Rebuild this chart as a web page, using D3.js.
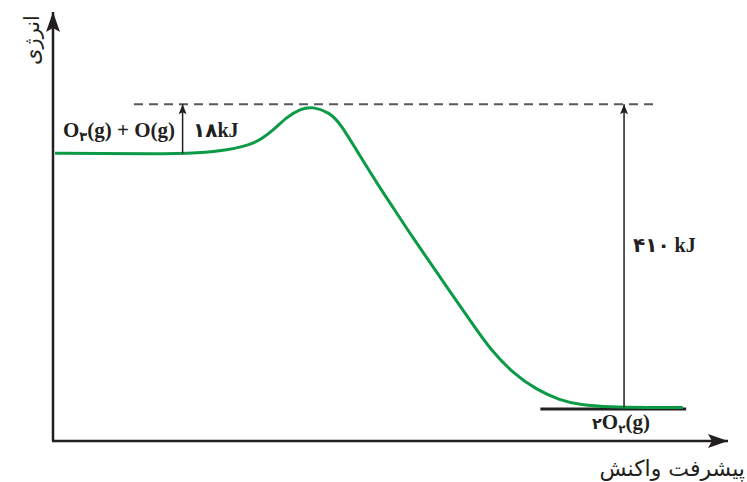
<!DOCTYPE html>
<html>
<head>
<meta charset="utf-8">
<script src="https://cdn.jsdelivr.net/npm/d3@7"></script>
<style>
  body { margin: 0; background: #fff; }
  svg { display: block; }
</style>
</head>
<body>
<div id="chart"></div>
<script>
// reaction progress (0..100) and energy (arbitrary units, 0..100)
var progress = [0.3, 7.0, 14.4, 21.8, 26.2, 29.2, 31.0, 32.6, 34.7, 36.6, 38.5, 41.0, 42.5, 45.5, 48.4,
                50.4, 53.3, 58.4, 62.8, 64.7, 68.1, 71.7, 75.1, 78.1, 82.5, 88.4, 93.3];
var energy   = [67.1, 67.0, 66.9, 67.1, 67.9, 69.0, 70.5, 72.4, 75.6, 77.4, 78.0, 76.5, 74.2, 66.4, 59.1,
                54.4, 47.4, 35.8, 25.8, 21.6, 15.8, 11.9, 9.5, 8.4, 7.9, 7.8, 7.8];

// levels
var reactantLevel = 67.0;
var transitionLevel = 78.5;
var productLevel = 7.8;

// labels
var yTitle = "انرژی";
var xTitle = "پیشرفت واکنش";
var activationLabel = "۱۸kJ";
var deltaLabel = "۴۱۰ kJ";

var width = 747, height = 482;
var margin = {top: 12, left: 53, bottom: 41, right: 19};

var x = d3.scaleLinear().domain([0, 100]).range([margin.left, width - margin.right]);
var y = d3.scaleLinear().domain([0, 100]).range([height - margin.bottom, margin.top]);

var svg = d3.select("#chart").append("svg")
  .attr("width", width)
  .attr("height", height);

var defs = svg.append("defs");
defs.append("marker")
    .attr("id", "bigHead")
    .attr("viewBox", "0 0 20 14")
    .attr("refX", 20).attr("refY", 7)
    .attr("markerWidth", 20).attr("markerHeight", 14)
    .attr("markerUnits", "userSpaceOnUse")
    .attr("orient", "auto")
  .append("path")
    .attr("d", "M0,0L20,7L0,14L4,7Z")
    .attr("fill", "#231f20");
defs.append("marker")
    .attr("id", "smallHead")
    .attr("viewBox", "0 0 10 8")
    .attr("refX", 10).attr("refY", 4)
    .attr("markerWidth", 10).attr("markerHeight", 8)
    .attr("markerUnits", "userSpaceOnUse")
    .attr("orient", "auto")
  .append("path")
    .attr("d", "M0,0L10,4L0,8L2,4Z")
    .attr("fill", "#231f20");

var x0 = x(0), y0 = y(0);

// axes
svg.append("line")
    .attr("x1", x0).attr("y1", y0)
    .attr("x2", x0).attr("y2", y(100))
    .attr("stroke", "#231f20").attr("stroke-width", 2.5)
    .attr("marker-end", "url(#bigHead)");
svg.append("line")
    .attr("x1", x0 - 1).attr("y1", y0)
    .attr("x2", x(100)).attr("y2", y0)
    .attr("stroke", "#231f20").attr("stroke-width", 2.5)
    .attr("marker-end", "url(#bigHead)");

// axis titles
svg.append("text")
    .attr("transform", "translate(39,40) rotate(-90)")
    .attr("text-anchor", "middle")
    .attr("font-family", "DejaVu Sans")
    .attr("font-size", "21px")
    .attr("fill", "#231f20")
    .text(yTitle);
svg.append("text")
    .attr("x", 745).attr("y", 476)
    .attr("text-anchor", "end")
    .attr("font-family", "DejaVu Sans")
    .attr("font-size", "22px")
    .attr("fill", "#231f20")
    .text(xTitle);

// dashed transition state level
svg.append("line")
    .attr("x1", x(12)).attr("x2", x(89.2))
    .attr("y1", y(transitionLevel)).attr("y2", y(transitionLevel))
    .attr("stroke", "#58595b").attr("stroke-width", 2)
    .attr("stroke-dasharray", "9,6");

// product base line
svg.append("line")
    .attr("x1", x(72.2)).attr("x2", x(93.8))
    .attr("y1", y(productLevel) + 1.5).attr("y2", y(productLevel) + 1.5)
    .attr("stroke", "#231f20").attr("stroke-width", 3);

// energy curve
var pts = progress.map(function (p, i) { return [p, energy[i]]; });
var line = d3.line()
    .x(function (d) { return x(d[0]); })
    .y(function (d) { return y(d[1]); })
    .curve(d3.curveBasis);
svg.append("path")
    .attr("d", line(pts))
    .attr("fill", "none")
    .attr("stroke", "#0c9a47")
    .attr("stroke-width", 3);

// activation arrow
svg.append("line")
    .attr("x1", x(19.2)).attr("x2", x(19.2))
    .attr("y1", y(reactantLevel)).attr("y2", y(transitionLevel))
    .attr("stroke", "#231f20").attr("stroke-width", 1.5)
    .attr("marker-end", "url(#smallHead)");

// enthalpy arrow
svg.append("line")
    .attr("x1", x(84.6)).attr("x2", x(84.6))
    .attr("y1", y(productLevel)).attr("y2", y(transitionLevel))
    .attr("stroke", "#231f20").attr("stroke-width", 1.5)
    .attr("marker-end", "url(#smallHead)");

var font = "'Liberation Serif', 'DejaVu Sans', serif";

// reactants label
var r = svg.append("text")
    .attr("x", 63).attr("y", 137)
    .attr("font-family", font)
    .attr("font-weight", "bold")
    .attr("font-size", "21px")
    .attr("fill", "#231f20");
r.append("tspan").text("O");
r.append("tspan").attr("font-size", "13px").attr("dy", 4).attr("font-family", "DejaVu Sans").text("۳");
r.append("tspan").attr("dy", -4).text("(g) + O(g)");

svg.append("text")
    .attr("x", 193).attr("y", 137)
    .attr("font-family", font)
    .attr("font-weight", "bold")
    .attr("font-size", "20px")
    .attr("fill", "#231f20")
    .text(activationLabel);

svg.append("text")
    .attr("x", 633).attr("y", 252)
    .attr("font-family", font)
    .attr("font-weight", "bold")
    .attr("font-size", "20px")
    .attr("fill", "#231f20")
    .text(deltaLabel);

// product label
var p = svg.append("text")
    .attr("x", 621).attr("y", 429)
    .attr("text-anchor", "middle")
    .attr("font-family", font)
    .attr("font-weight", "bold")
    .attr("font-size", "21px")
    .attr("fill", "#231f20");
p.append("tspan").attr("font-family", "DejaVu Sans").attr("font-size", "16px").text("۲");
p.append("tspan").text("O");
p.append("tspan").attr("font-size", "12px").attr("dy", 4).attr("font-family", "DejaVu Sans").text("۲");
p.append("tspan").attr("dy", -4).text("(g)");
</script>
</body>
</html>
